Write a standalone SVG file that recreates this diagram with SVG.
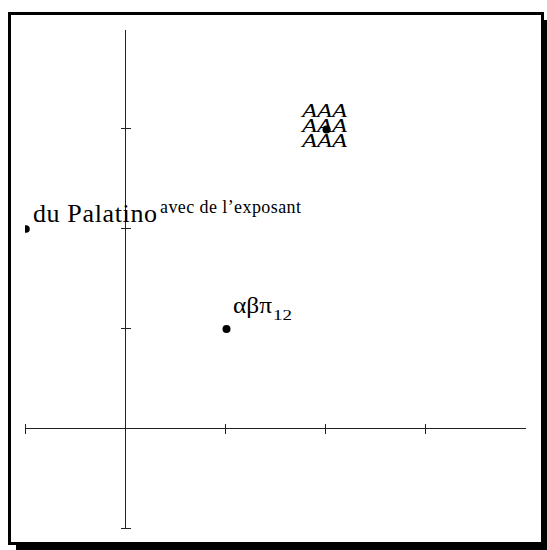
<svg xmlns="http://www.w3.org/2000/svg" width="547" height="550" viewBox="0 0 547 550">
<defs>
<style>
.ax{stroke:#222;stroke-width:1;fill:none}
.dot{fill:#000}
.t{font-family:"Liberation Serif","DejaVu Serif",serif;fill:#000}
.it{font-family:"Liberation Serif","DejaVu Serif",serif;font-style:italic;fill:#000}
</style>
<clipPath id="clip"><rect x="25" y="14" width="517" height="530"/></clipPath>
</defs>
<rect id="shadow" x="16" y="20" width="540" height="540" fill="#000"/>
<rect id="frame" x="9.5" y="13.5" width="533" height="530" fill="#fff" stroke="#000" stroke-width="3"/>
<g id="axes" class="ax">
<line x1="25.5" y1="428.5" x2="526" y2="428.5"/>
<line x1="125.5" y1="30" x2="125.5" y2="529"/>
<line x1="25.5" y1="424" x2="25.5" y2="434"/>
<line x1="225.5" y1="424" x2="225.5" y2="434"/>
<line x1="325.5" y1="424" x2="325.5" y2="434"/>
<line x1="425.5" y1="424" x2="425.5" y2="434"/>
<line x1="121" y1="128.5" x2="131" y2="128.5"/>
<line x1="121" y1="228.5" x2="131" y2="228.5"/>
<line x1="121" y1="328.5" x2="131" y2="328.5"/>
<line x1="121" y1="528.5" x2="131" y2="528.5"/>
</g>
<g id="p1">
<circle class="dot" cx="26" cy="229" r="3.8" clip-path="url(#clip)"/>
<text class="t" x="33" y="222" font-size="26" textLength="124" lengthAdjust="spacing">du Palatino</text>
<text class="t" x="160" y="213" font-size="18" textLength="141" lengthAdjust="spacing">avec de l’exposant</text>
</g>
<g id="p2">
<circle class="dot" cx="226.5" cy="329" r="4"/>
<text class="t" x="233" y="313" font-size="24" textLength="39" lengthAdjust="spacingAndGlyphs">αβπ</text>
<text class="t" x="273" y="320" font-size="15" textLength="19" lengthAdjust="spacingAndGlyphs">12</text>
</g>
<g id="p3">
<text class="it" x="302" y="117" font-size="19" textLength="45" lengthAdjust="spacingAndGlyphs">AAA</text>
<text class="it" x="302" y="132" font-size="19" textLength="45" lengthAdjust="spacingAndGlyphs">AAA</text>
<text class="it" x="302" y="147" font-size="19" textLength="45" lengthAdjust="spacingAndGlyphs">AAA</text>
<circle class="dot" cx="326.5" cy="129.5" r="4"/>
</g>
</svg>
